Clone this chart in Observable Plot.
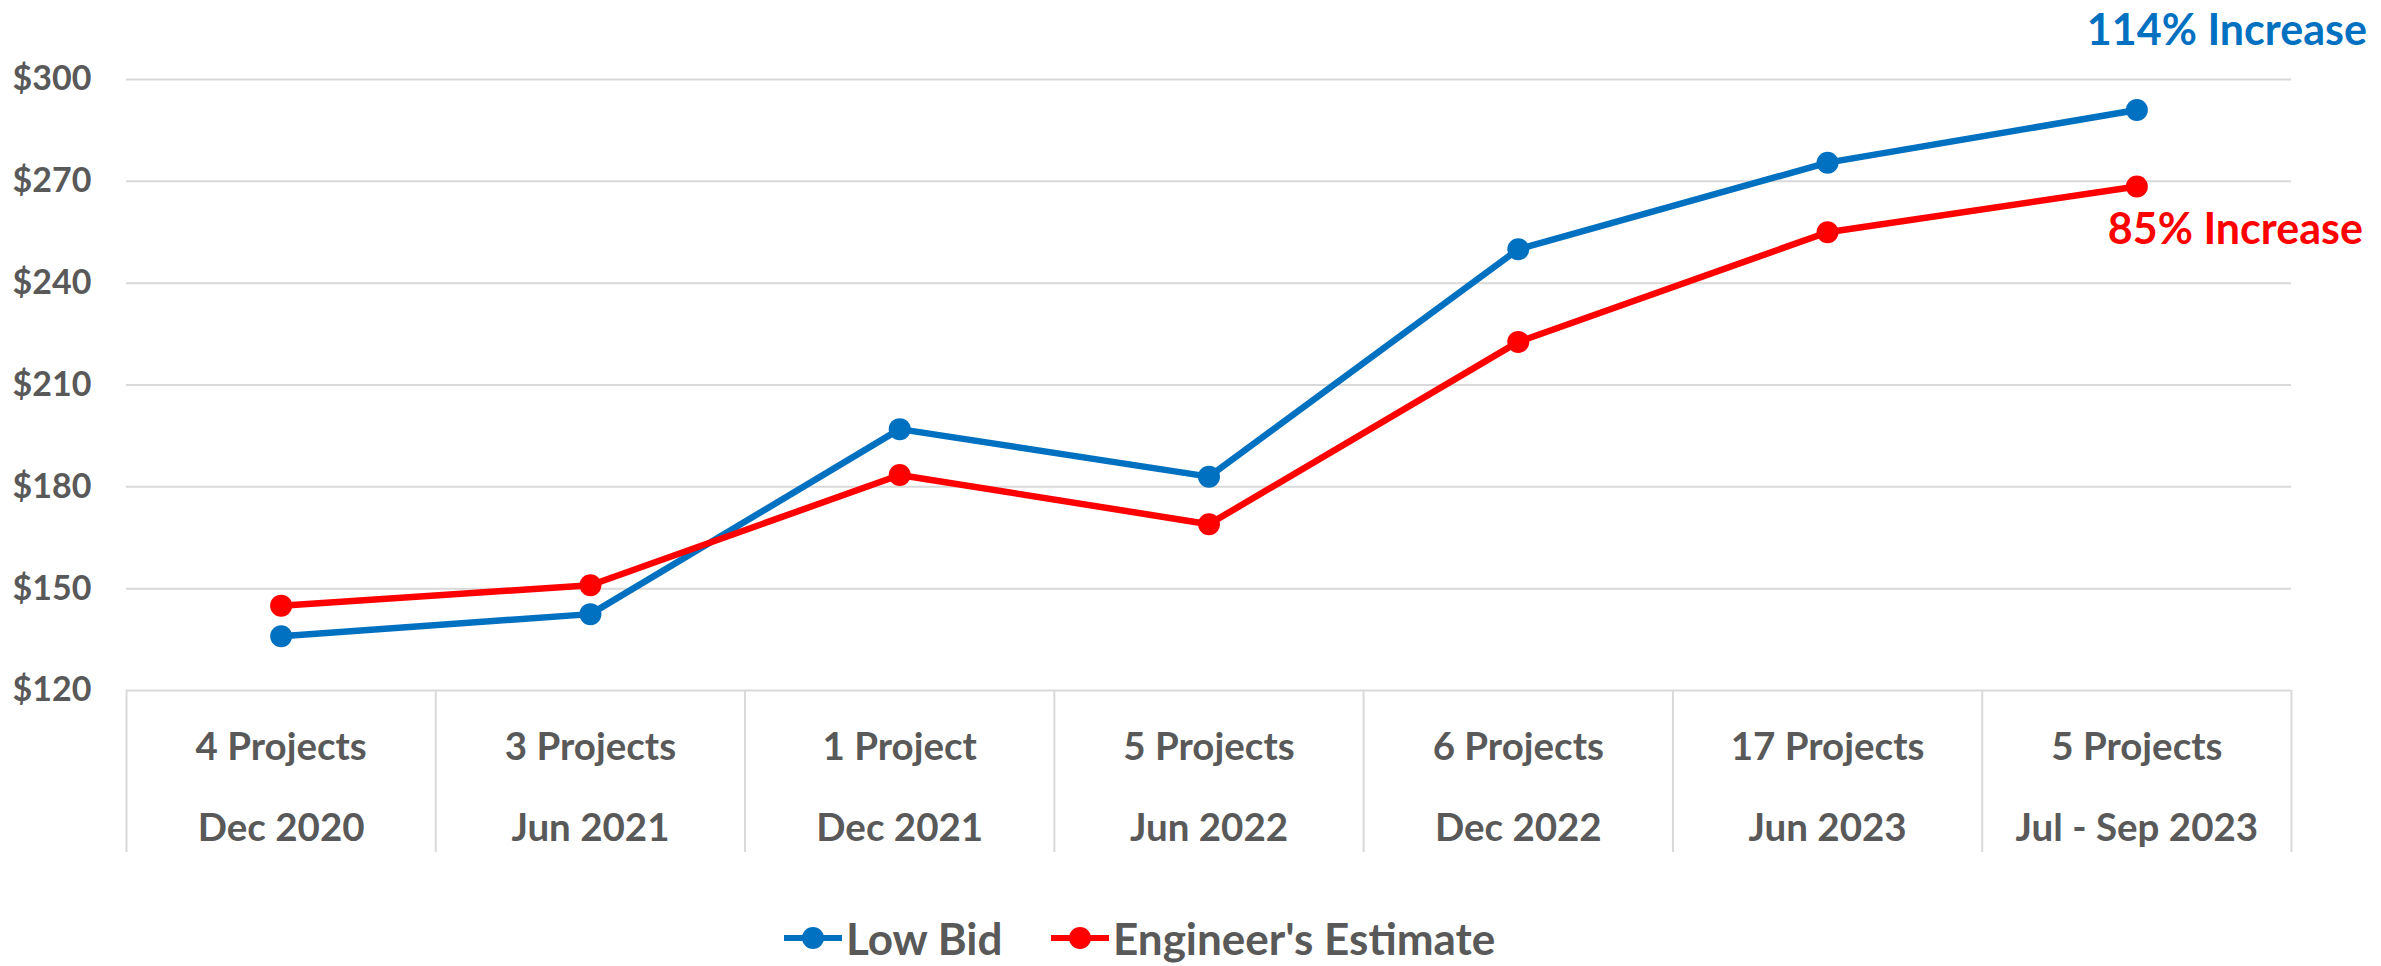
<!DOCTYPE html>
<html><head><meta charset="utf-8">
<script src="https://cdn.jsdelivr.net/npm/d3@7"></script>
<script src="https://cdn.jsdelivr.net/npm/@observablehq/plot@0.6"></script>
<style>
html,body{margin:0;padding:0;background:#fff;}
#chart svg{display:block;}
#legend{position:relative;height:86px;width:2381px;font-family:Lato,sans-serif;font-weight:700;color:#595959;}
.item{position:absolute;top:34px;display:flex;align-items:center;height:48px;font-size:44px;}
.item svg{display:block;margin-right:4px;}
</style></head>
<body><div id="chart"></div><div id="legend"></div>
<script>
const projects = ["4 Projects","3 Projects","1 Project","5 Projects","6 Projects","17 Projects","5 Projects"];
const periods = ["Dec 2020","Jun 2021","Dec 2021","Jun 2022","Dec 2022","Jun 2023","Jul - Sep 2023"];
const lowBid = [136, 142.5, 197, 183, 250, 275.5, 291];
const engEstimate = [145, 151, 183.5, 169, 222.7, 255, 268.5];
const seriesNames = ["Low Bid", "Engineer's Estimate"];
const seriesColors = ["#0070C0", "#FF0000"];
const yTicks = [120, 150, 180, 210, 240, 270, 300];
const annotationLabels = ["114% Increase", "85% Increase"];

const idx = projects.map((_, i) => i);
const rows = [
  ...lowBid.map((v, i) => ({i, value: v, series: seriesNames[0]})),
  ...engEstimate.map((v, i) => ({i, value: v, series: seriesNames[1]}))
];
const cats = idx.map(i => ({i, top: projects[i], bottom: periods[i]}));
const bounds = [-0.5, ...idx.map(i => i + 0.5)];
const last = idx.length - 1;
const ann = [
  {i: last, value: lowBid[last], label: annotationLabels[0], series: seriesNames[0]},
  {i: last, value: engEstimate[last], label: annotationLabels[1], series: seriesNames[1]}
];
const grey = "#595959";

const chart = Plot.plot({
  width: 2381, height: 880,
  marginLeft: 126, marginRight: 90, marginTop: 79, marginBottom: 190,
  style: {fontFamily: "Lato, sans-serif", fontWeight: 700, color: grey, background: "#fff"},
  x: {type: "linear", domain: [-0.5, idx.length - 0.5], axis: null},
  y: {domain: [120, 300], axis: null},
  color: {domain: seriesNames, range: seriesColors},
  marks: [
    Plot.gridY(yTicks, {stroke: "#D9D9D9", strokeOpacity: 1, strokeWidth: 2}),
    Plot.ruleX(bounds, {x: d => d, stroke: "#D9D9D9", strokeWidth: 2, insetTop: 611, insetBottom: -162}),
    Plot.axisY(yTicks, {label: null, tickSize: 0, tickPadding: 35, tickFormat: d => "$" + d, fontSize: 34, fill: grey, fontWeight: 700}),
    Plot.text(cats, {x: "i", text: "top", frameAnchor: "bottom", lineAnchor: "middle", dy: 57, fontSize: 38.5, fill: grey, fontWeight: 700}),
    Plot.text(cats, {x: "i", text: "bottom", frameAnchor: "bottom", lineAnchor: "middle", dy: 138, fontSize: 38.5, fill: grey, fontWeight: 700}),
    Plot.line(rows, {x: "i", y: "value", z: "series", stroke: "series", strokeWidth: 6.5}),
    Plot.dot(rows, {x: "i", y: "value", fill: "series", r: 11}),
    Plot.text([ann[0]], {x: "i", y: "value", text: "label", fill: "series", textAnchor: "end", dx: 230, dy: -79, fontSize: 43, fontWeight: 700}),
    Plot.text([ann[1]], {x: "i", y: "value", text: "label", fill: "series", textAnchor: "end", dx: 226, dy: 44, fontSize: 43, fontWeight: 700})
  ]
});
document.getElementById("chart").append(chart);

const legendLeft = [784, 1051];
const legend = d3.select("#legend");
seriesNames.forEach((name, k) => {
  const item = legend.append("div").attr("class", "item").style("left", legendLeft[k] + "px");
  const s = item.append("svg").attr("width", 58).attr("height", 24);
  s.append("line").attr("x1", 0).attr("x2", 58).attr("y1", 12).attr("y2", 12)
    .attr("stroke", seriesColors[k]).attr("stroke-width", 6);
  s.append("circle").attr("cx", 29).attr("cy", 12).attr("r", 11).attr("fill", seriesColors[k]);
  item.append("span").text(name);
});
</script>
</body></html>
